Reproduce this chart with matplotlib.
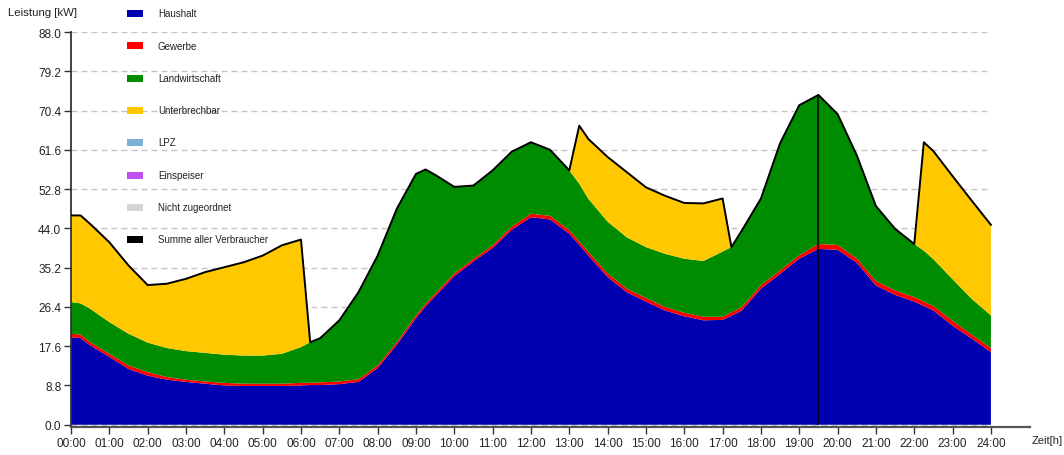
import numpy as np
import matplotlib
matplotlib.use("Agg")
import matplotlib.pyplot as plt
from matplotlib.patches import Rectangle

plt.rcParams['font.family'] = ['Liberation Sans', 'DejaVu Sans']

# time in hours (half-hour steps plus the switching moments)
zeit = [0, 0.25, 0.5, 1, 1.5, 2, 2.5, 3, 3.5, 4, 4.5, 5, 5.5, 6, 6.24, 6.5, 7, 7.5, 8, 8.5,
        9, 9.25, 9.5, 10, 10.5, 11, 11.5, 12, 12.5, 13, 13.26, 13.5, 14, 14.5, 15, 15.5, 16, 16.5,
        17, 17.23, 17.5, 18, 18.5, 19, 19.5, 20, 20.5, 21, 21.5, 22, 22.25, 22.5, 23, 23.5, 24]

haushalt = [19.6, 19.4, 17.8, 15.2, 12.5, 11.0, 10.1, 9.6, 9.2, 8.8, 8.7, 8.7, 8.7, 8.8, 8.9, 8.9,
            9.1, 9.6, 12.7, 17.9, 23.9, 26.5, 28.8, 33.3, 36.6, 39.6, 43.7, 46.5, 46.0, 42.8, 40.3,
            37.9, 33.1, 29.7, 27.6, 25.6, 24.3, 23.4, 23.5, 24.4, 25.6, 30.5, 33.8, 37.2, 39.4,
            39.2, 36.3, 31.2, 29.1, 27.6, 26.6, 25.6, 22.2, 19.3, 16.3]

gewerbe = [0.8, 0.8, 0.7, 0.7, 0.8, 0.8, 0.6, 0.5, 0.5, 0.6, 0.5, 0.5, 0.5, 0.6, 0.5, 0.6,
           0.6, 0.6, 0.6, 0.6, 0.6, 0.6, 0.6, 0.6, 0.6, 0.6, 0.7, 0.8, 0.8, 0.8, 0.8,
           0.8, 0.8, 0.8, 0.8, 0.8, 0.8, 0.8, 0.7, 0.8, 0.8, 0.8, 0.8, 0.8, 1.1,
           1.1, 1.0, 1.0, 1.0, 1.0, 1.0, 1.0, 1.1, 0.9, 0.9]

landwirtschaft = [7.1, 7.0, 7.5, 7.1, 7.1, 6.6, 6.5, 6.4, 6.4, 6.3, 6.3, 6.3, 6.7, 8.0, 9.1, 9.9,
                  13.7, 19.5, 24.6, 29.9, 31.7, 30.1, 26.6, 19.4, 16.4, 16.8, 16.8, 16.0, 14.8, 13.4, 12.9,
                  11.9, 11.6, 11.5, 11.4, 11.9, 12.1, 12.5, 14.6, 14.6, 17.1, 19.4, 28.5, 33.6, 33.4,
                  29.3, 23.1, 16.8, 13.8, 11.9, 11.4, 10.5, 9.3, 8.0, 7.3]

unterbrechbar = [19.4, 19.7, 19.0, 17.9, 15.3, 12.9, 14.4, 16.2, 18.1, 19.6, 20.9, 22.4, 24.3, 24.1, 0, 0,
                 0, 0, 0, 0, 0, 0, 0, 0, 0, 0, 0, 0, 0, 0, 13.0,
                 13.4, 14.5, 14.6, 13.4, 13.0, 12.5, 12.9, 11.9, 0, 0, 0, 0, 0, 0,
                 0, 0, 0, 0, 0, 24.3, 24.2, 23.1, 22.0, 20.3]

legend_names = ['Haushalt', 'Gewerbe', 'Landwirtschaft', 'Unterbrechbar', 'LPZ',
                'Einspeiser', 'Nicht zugeordnet', 'Summe aller Verbraucher']
legend_colors = ['#0000b0', '#ff0000', '#008c00', '#ffc800', '#7bafd4',
                 '#c050f0', '#d4d4d4', '#000000']

y_ticks = [0.0, 8.8, 17.6, 26.4, 35.2, 44.0, 52.8, 61.6, 70.4, 79.2, 88.0]
x_ticks = list(range(25))
x_labels = ['%02d:00' % h for h in x_ticks]
marker_zeit = 19.5

textcol = '#222222'

fig = plt.figure(figsize=(10.64, 4.56), dpi=100)
ax = fig.add_axes([71/1064, 1-428/456, (1030-71)/1064, (428-33)/456])
ax.set_xlim(0, (1030-71)/38.33)
ax.set_ylim(-0.5, 88)

# dashed grid lines only over the data range
ax.hlines(y_ticks, 0, 24, colors='#c4c4c4', linestyles=(0, (4.3, 2.9)), lw=1, zorder=0)

ax.stackplot(zeit, haushalt, gewerbe, landwirtschaft, unterbrechbar,
             colors=legend_colors[:4], lw=0, zorder=1)

summe = np.array(haushalt) + np.array(gewerbe) + np.array(landwirtschaft) + np.array(unterbrechbar)
ax.plot(zeit, summe, color='black', lw=1.4, zorder=3)
ax.vlines(marker_zeit, 0, np.interp(marker_zeit, zeit, summe), color='black', lw=1.1, zorder=3)

for s in ['top', 'right']:
    ax.spines[s].set_visible(False)
ax.spines['left'].set_color('#333333')
ax.spines['left'].set_linewidth(1.3)
ax.spines['bottom'].set_color('#555555')
ax.spines['bottom'].set_linewidth(1.6)

ax.set_yticks(y_ticks)
ax.set_yticklabels(['%.1f' % v for v in y_ticks])
ax.set_xticks(x_ticks)
ax.set_xticklabels(x_labels)
ax.tick_params(axis='both', direction='out', length=5, width=1, color='#333333',
               labelsize=8.5, labelcolor=textcol, pad=2)

fig.text(8/1064, 1-13/456, 'Leistung [kW]', fontsize=8.2, color=textcol, va='center', ha='left')
fig.text(1032/1064, 1-441/456, 'Zeit[h]', fontsize=8, color=textcol, va='center', ha='left')

legend_y = [14, 46.5, 79, 111.5, 143.5, 176, 208.5, 240.5]
for name, col, yy in zip(legend_names, legend_colors, legend_y):
    fig.patches.append(Rectangle((127/1064, 1-(yy+3.5)/456), 16/1064, 7/456,
                                 transform=fig.transFigure, facecolor=col, edgecolor='none'))
    fig.text(158/1064, 1-yy/456, name, fontsize=7, color=textcol, va='center', ha='left')

fig.savefig('out.png', dpi=100)
